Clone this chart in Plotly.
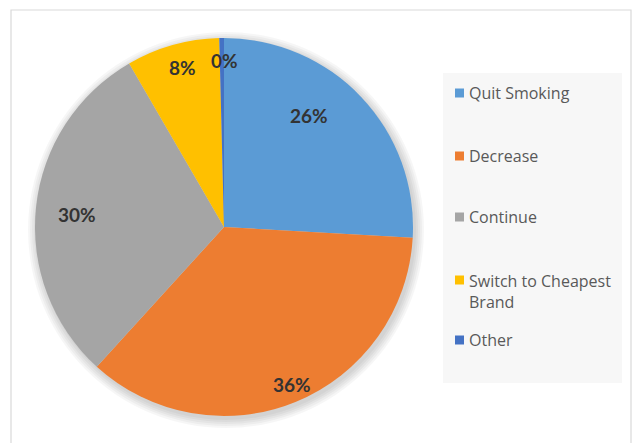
import math
import plotly.graph_objects as go

# Survey responses (percent of respondents)
categories = ["Quit Smoking", "Decrease", "Continue", "Switch to Cheapest Brand", "Other"]
legend_text = ["Quit Smoking", "Decrease", "Continue", "Switch to Cheapest<br>Brand", "Other"]
values = [26, 36, 30, 8, 0.4]
colors = ["#5B9BD5", "#ED7D31", "#A5A5A5", "#FFC000", "#4472C4"]

W, H = 636, 443
CX, CY, R = 224, 227, 189          # pie centre and radius in pixels

def fx(px):
    return px / W

def fy(py):
    return 1 - py / H

fig = go.Figure()
fig.add_trace(go.Pie(
    labels=categories,
    values=values,
    sort=False,
    direction="clockwise",
    rotation=0,
    marker=dict(colors=colors, line=dict(width=0)),
    textinfo="none",
    hoverinfo="label+percent",
    showlegend=False,
    domain=dict(x=[fx(CX - R), fx(CX + R)], y=[fy(CY + R), fy(CY - R)]),
))

shapes = []
# chart frame
shapes.append(dict(type="rect", xref="paper", yref="paper",
                   x0=fx(11), x1=fx(631), y0=fy(460), y1=fy(10),
                   line=dict(color="#D9D9D9", width=1.2), fillcolor="rgba(0,0,0,0)",
                   layer="below"))
# soft shadow behind the pie
for grow in [9, 7, 5, 3, 1]:
    r = R + grow
    ox, oy = 2, 3
    shapes.append(dict(type="circle", xref="paper", yref="paper",
                       x0=fx(CX + ox - r), x1=fx(CX + ox + r),
                       y0=fy(CY + oy + r), y1=fy(CY + oy - r),
                       line=dict(width=0), fillcolor="rgba(0,0,0,0.035)",
                       layer="below"))
# legend panel
LX0, LX1, LY0, LY1 = 443, 622, 73, 383
shapes.append(dict(type="rect", xref="paper", yref="paper",
                   x0=fx(LX0), x1=fx(LX1), y0=fy(LY1), y1=fy(LY0),
                   line=dict(width=0), fillcolor="#F7F7F7", layer="below"))

annotations = []
# legend entries: swatch + label, centred on each entry's first line
LEG_SIZE, LINE_H = 16, 22
entry_y = [93, 156, 217, 280, 340]
for txt, col, ey in zip(legend_text, colors, entry_y):
    shapes.append(dict(type="rect", xref="paper", yref="paper",
                       x0=fx(455), x1=fx(464), y0=fy(ey + 4.5), y1=fy(ey - 4.5),
                       line=dict(width=0), fillcolor=col))
    n_lines = txt.count("<br>") + 1
    cy = ey + (n_lines - 1) * LINE_H / 2
    annotations.append(dict(xref="paper", yref="paper", x=fx(467), y=fy(cy),
                            text=txt, showarrow=False, xanchor="left", yanchor="middle",
                            align="left",
                            font=dict(family="Open Sans", size=LEG_SIZE, color="#595959")))

# percentage labels placed along each slice (angle tweak in degrees, radius fraction)
total = sum(values)
label_adjust = [(-9.2, 0.74), (-1.1, 0.905), (-1.4, 0.78), (1.1, 0.875), (0.9, 0.88)]
cum = 0
for v, (dang, rf) in zip(values, label_adjust):
    mid = (cum + v / 2) / total * 360 + dang
    cum += v
    a = math.radians(mid)
    px = CX + rf * R * math.sin(a)
    py = CY - rf * R * math.cos(a)
    annotations.append(dict(xref="paper", yref="paper", x=fx(px), y=fy(py),
                            text=f"<b>{round(v / total * 100)}%</b>", showarrow=False,
                            xanchor="center", yanchor="middle",
                            font=dict(family="Lato", size=19, color="#333333")))

fig.update_layout(
    width=W, height=H,
    margin=dict(l=0, r=0, t=0, b=0),
    paper_bgcolor="white",
    plot_bgcolor="white",
    shapes=shapes,
    annotations=annotations,
)

fig.write_html("out.html")
